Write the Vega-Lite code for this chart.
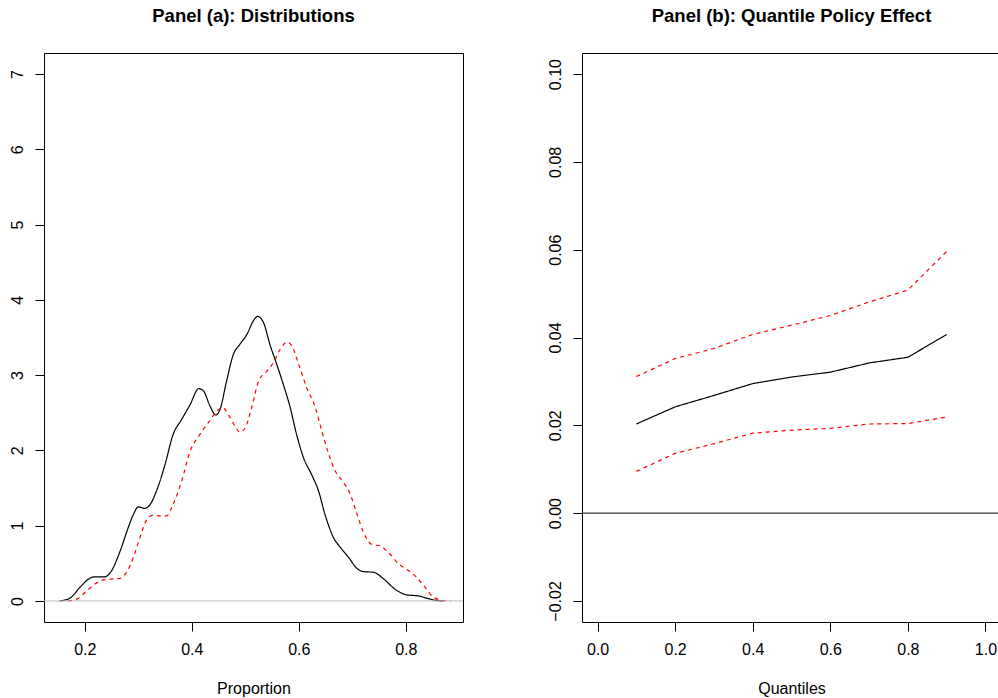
{
  "$schema": "https://vega.github.io/schema/vega-lite/v6.json",
  "padding": {"left": 8, "top": 6, "right": 0, "bottom": 0},
  "background": "white",
  "bounds": "flush",
  "spacing": 119,
  "config": {
    "font": "Liberation Sans",
    "view": {"stroke": "black", "strokeWidth": 1},
    "axis": {
      "grid": false, "domain": false, "tickColor": "black", "tickSize": 9,
      "labelFontSize": 16, "labelColor": "black", "labelFont": "Liberation Sans",
      "titleFontSize": 16, "titleFontWeight": "normal", "titleColor": "black", "titleFont": "Liberation Sans"
    },
    "title": {"fontSize": 18.5, "fontWeight": "bold", "anchor": "middle", "color": "black", "font": "Liberation Sans", "offset": 28}
  },
  "datasets": {
    "dens": [
      {"group": "Black", "proportion": 0.153, "density": 0},
      {"group": "Black", "proportion": 0.172, "density": 0.035},
      {"group": "Black", "proportion": 0.191, "density": 0.18},
      {"group": "Black", "proportion": 0.209, "density": 0.30},
      {"group": "Black", "proportion": 0.219, "density": 0.32},
      {"group": "Black", "proportion": 0.237, "density": 0.32},
      {"group": "Black", "proportion": 0.250, "density": 0.40},
      {"group": "Black", "proportion": 0.266, "density": 0.66},
      {"group": "Black", "proportion": 0.281, "density": 0.97},
      {"group": "Black", "proportion": 0.291, "density": 1.15},
      {"group": "Black", "proportion": 0.300, "density": 1.25},
      {"group": "Black", "proportion": 0.312, "density": 1.23},
      {"group": "Black", "proportion": 0.322, "density": 1.28},
      {"group": "Black", "proportion": 0.334, "density": 1.46},
      {"group": "Black", "proportion": 0.350, "density": 1.81},
      {"group": "Black", "proportion": 0.365, "density": 2.21},
      {"group": "Black", "proportion": 0.381, "density": 2.41},
      {"group": "Black", "proportion": 0.397, "density": 2.61},
      {"group": "Black", "proportion": 0.413, "density": 2.82},
      {"group": "Black", "proportion": 0.422, "density": 2.79},
      {"group": "Black", "proportion": 0.434, "density": 2.59},
      {"group": "Black", "proportion": 0.445, "density": 2.47},
      {"group": "Black", "proportion": 0.453, "density": 2.55},
      {"group": "Black", "proportion": 0.465, "density": 2.92},
      {"group": "Black", "proportion": 0.478, "density": 3.28},
      {"group": "Black", "proportion": 0.490, "density": 3.41},
      {"group": "Black", "proportion": 0.503, "density": 3.54},
      {"group": "Black", "proportion": 0.515, "density": 3.72},
      {"group": "Black", "proportion": 0.523, "density": 3.78},
      {"group": "Black", "proportion": 0.534, "density": 3.70},
      {"group": "Black", "proportion": 0.546, "density": 3.41},
      {"group": "Black", "proportion": 0.559, "density": 3.14},
      {"group": "Black", "proportion": 0.571, "density": 2.88},
      {"group": "Black", "proportion": 0.584, "density": 2.57},
      {"group": "Black", "proportion": 0.596, "density": 2.21},
      {"group": "Black", "proportion": 0.609, "density": 1.90},
      {"group": "Black", "proportion": 0.624, "density": 1.68},
      {"group": "Black", "proportion": 0.637, "density": 1.46},
      {"group": "Black", "proportion": 0.649, "density": 1.15},
      {"group": "Black", "proportion": 0.665, "density": 0.84},
      {"group": "Black", "proportion": 0.678, "density": 0.71},
      {"group": "Black", "proportion": 0.693, "density": 0.58},
      {"group": "Black", "proportion": 0.709, "density": 0.43},
      {"group": "Black", "proportion": 0.721, "density": 0.39},
      {"group": "Black", "proportion": 0.740, "density": 0.38},
      {"group": "Black", "proportion": 0.759, "density": 0.29},
      {"group": "Black", "proportion": 0.781, "density": 0.15},
      {"group": "Black", "proportion": 0.802, "density": 0.08},
      {"group": "Black", "proportion": 0.824, "density": 0.066},
      {"group": "Black", "proportion": 0.840, "density": 0.035},
      {"group": "Black", "proportion": 0.859, "density": 0.005},
      {"group": "Black", "proportion": 0.871, "density": 0},
      {"group": "Red", "proportion": 0.169, "density": 0},
      {"group": "Red", "proportion": 0.184, "density": 0.02},
      {"group": "Red", "proportion": 0.203, "density": 0.13},
      {"group": "Red", "proportion": 0.222, "density": 0.24},
      {"group": "Red", "proportion": 0.234, "density": 0.28},
      {"group": "Red", "proportion": 0.250, "density": 0.29},
      {"group": "Red", "proportion": 0.266, "density": 0.30},
      {"group": "Red", "proportion": 0.278, "density": 0.38},
      {"group": "Red", "proportion": 0.291, "density": 0.58},
      {"group": "Red", "proportion": 0.303, "density": 0.84},
      {"group": "Red", "proportion": 0.316, "density": 1.08},
      {"group": "Red", "proportion": 0.328, "density": 1.14},
      {"group": "Red", "proportion": 0.340, "density": 1.13},
      {"group": "Red", "proportion": 0.353, "density": 1.13},
      {"group": "Red", "proportion": 0.365, "density": 1.28},
      {"group": "Red", "proportion": 0.381, "density": 1.59},
      {"group": "Red", "proportion": 0.397, "density": 1.99},
      {"group": "Red", "proportion": 0.415, "density": 2.21},
      {"group": "Red", "proportion": 0.431, "density": 2.37},
      {"group": "Red", "proportion": 0.447, "density": 2.52},
      {"group": "Red", "proportion": 0.458, "density": 2.57},
      {"group": "Red", "proportion": 0.468, "density": 2.48},
      {"group": "Red", "proportion": 0.481, "density": 2.32},
      {"group": "Red", "proportion": 0.490, "density": 2.24},
      {"group": "Red", "proportion": 0.500, "density": 2.30},
      {"group": "Red", "proportion": 0.512, "density": 2.57},
      {"group": "Red", "proportion": 0.525, "density": 2.92},
      {"group": "Red", "proportion": 0.540, "density": 3.05},
      {"group": "Red", "proportion": 0.553, "density": 3.17},
      {"group": "Red", "proportion": 0.565, "density": 3.34},
      {"group": "Red", "proportion": 0.578, "density": 3.44},
      {"group": "Red", "proportion": 0.587, "density": 3.39},
      {"group": "Red", "proportion": 0.600, "density": 3.14},
      {"group": "Red", "proportion": 0.615, "density": 2.83},
      {"group": "Red", "proportion": 0.631, "density": 2.57},
      {"group": "Red", "proportion": 0.643, "density": 2.26},
      {"group": "Red", "proportion": 0.656, "density": 1.95},
      {"group": "Red", "proportion": 0.668, "density": 1.73},
      {"group": "Red", "proportion": 0.684, "density": 1.57},
      {"group": "Red", "proportion": 0.696, "density": 1.42},
      {"group": "Red", "proportion": 0.709, "density": 1.15},
      {"group": "Red", "proportion": 0.721, "density": 0.91},
      {"group": "Red", "proportion": 0.737, "density": 0.75},
      {"group": "Red", "proportion": 0.752, "density": 0.73},
      {"group": "Red", "proportion": 0.768, "density": 0.64},
      {"group": "Red", "proportion": 0.787, "density": 0.49},
      {"group": "Red", "proportion": 0.802, "density": 0.42},
      {"group": "Red", "proportion": 0.818, "density": 0.33},
      {"group": "Red", "proportion": 0.834, "density": 0.20},
      {"group": "Red", "proportion": 0.849, "density": 0.066},
      {"group": "Red", "proportion": 0.865, "density": 0.013},
      {"group": "Red", "proportion": 0.884, "density": 0}
    ],
    "qte": [
      {"series": "Estimate", "kind": "Estimate", "quantile": 0.1, "effect": 0.0203},
      {"series": "Estimate", "kind": "Estimate", "quantile": 0.2, "effect": 0.0242},
      {"series": "Estimate", "kind": "Estimate", "quantile": 0.3, "effect": 0.0268},
      {"series": "Estimate", "kind": "Estimate", "quantile": 0.4, "effect": 0.0295},
      {"series": "Estimate", "kind": "Estimate", "quantile": 0.5, "effect": 0.0310},
      {"series": "Estimate", "kind": "Estimate", "quantile": 0.6, "effect": 0.0321},
      {"series": "Estimate", "kind": "Estimate", "quantile": 0.7, "effect": 0.0342},
      {"series": "Estimate", "kind": "Estimate", "quantile": 0.8, "effect": 0.0355},
      {"series": "Estimate", "kind": "Estimate", "quantile": 0.9, "effect": 0.0407},
      {"series": "Upper", "kind": "Bound", "quantile": 0.1, "effect": 0.0311},
      {"series": "Upper", "kind": "Bound", "quantile": 0.2, "effect": 0.0352},
      {"series": "Upper", "kind": "Bound", "quantile": 0.3, "effect": 0.0375},
      {"series": "Upper", "kind": "Bound", "quantile": 0.4, "effect": 0.0407},
      {"series": "Upper", "kind": "Bound", "quantile": 0.5, "effect": 0.0428},
      {"series": "Upper", "kind": "Bound", "quantile": 0.6, "effect": 0.0450},
      {"series": "Upper", "kind": "Bound", "quantile": 0.7, "effect": 0.0481},
      {"series": "Upper", "kind": "Bound", "quantile": 0.8, "effect": 0.0508},
      {"series": "Upper", "kind": "Bound", "quantile": 0.9, "effect": 0.0596},
      {"series": "Lower", "kind": "Bound", "quantile": 0.1, "effect": 0.0095},
      {"series": "Lower", "kind": "Bound", "quantile": 0.2, "effect": 0.0136},
      {"series": "Lower", "kind": "Bound", "quantile": 0.3, "effect": 0.0158},
      {"series": "Lower", "kind": "Bound", "quantile": 0.4, "effect": 0.0182},
      {"series": "Lower", "kind": "Bound", "quantile": 0.5, "effect": 0.0189},
      {"series": "Lower", "kind": "Bound", "quantile": 0.6, "effect": 0.0193},
      {"series": "Lower", "kind": "Bound", "quantile": 0.7, "effect": 0.0203},
      {"series": "Lower", "kind": "Bound", "quantile": 0.8, "effect": 0.0204},
      {"series": "Lower", "kind": "Bound", "quantile": 0.9, "effect": 0.0219}
    ]
  },
  "hconcat": [
    {
      "width": 419,
      "height": 569,
      "title": "Panel (a): Distributions",
      "layer": [
        {
          "data": {"name": "dens"},
          "mark": {"type": "line", "interpolate": "monotone", "strokeWidth": 1.2},
          "encoding": {
            "x": {"field": "proportion", "type": "quantitative",
                  "scale": {"domain": [0.1238, 0.907], "nice": false, "zero": false},
                  "axis": {"values": [0.2, 0.4, 0.6, 0.8], "format": ".1f", "title": "Proportion", "labelPadding": 10, "titlePadding": 23}},
            "y": {"field": "density", "type": "quantitative",
                  "scale": {"domain": [-0.28, 7.28], "nice": false, "zero": false},
                  "axis": {"values": [0, 1, 2, 3, 4, 5, 6, 7], "format": "d", "labelAngle": -90, "title": null, "labelPadding": 10}},
            "color": {"field": "group", "type": "nominal", "scale": {"domain": ["Black", "Red"], "range": ["#000000", "#FF0000"]}, "legend": null},
            "strokeDash": {"field": "group", "type": "nominal", "scale": {"domain": ["Black", "Red"], "range": [[1, 0], [4, 4]]}, "legend": null}
          }
        },
        {
          "data": {"values": [{}]},
          "mark": {"type": "rule", "color": "#BEBEBE", "strokeWidth": 1},
          "encoding": {"y": {"datum": 0, "type": "quantitative"}}
        }
      ]
    },
    {
      "width": 419,
      "height": 569,
      "title": "Panel (b): Quantile Policy Effect",
      "layer": [
        {
          "data": {"name": "qte"},
          "mark": {"type": "line", "strokeWidth": 1.2},
          "encoding": {
            "x": {"field": "quantile", "type": "quantitative",
                  "scale": {"domain": [-0.04, 1.04], "nice": false, "zero": false},
                  "axis": {"values": [0, 0.2, 0.4, 0.6, 0.8, 1.0], "format": ".1f", "title": "Quantiles", "labelPadding": 10, "titlePadding": 23}},
            "y": {"field": "effect", "type": "quantitative",
                  "scale": {"domain": [-0.0248, 0.1048], "nice": false, "zero": false},
                  "axis": {"values": [-0.02, 0, 0.02, 0.04, 0.06, 0.08, 0.1], "format": ".2f", "labelAngle": -90, "title": null, "labelPadding": 10}},
            "detail": {"field": "series", "type": "nominal"},
            "color": {"field": "kind", "type": "nominal", "scale": {"domain": ["Estimate", "Bound"], "range": ["#000000", "#FF0000"]}, "legend": null},
            "strokeDash": {"field": "kind", "type": "nominal", "scale": {"domain": ["Estimate", "Bound"], "range": [[1, 0], [4, 4]]}, "legend": null}
          }
        },
        {
          "data": {"values": [{}]},
          "mark": {"type": "rule", "color": "#000000", "strokeWidth": 1},
          "encoding": {"y": {"datum": 0, "type": "quantitative"}}
        }
      ]
    }
  ]
}
